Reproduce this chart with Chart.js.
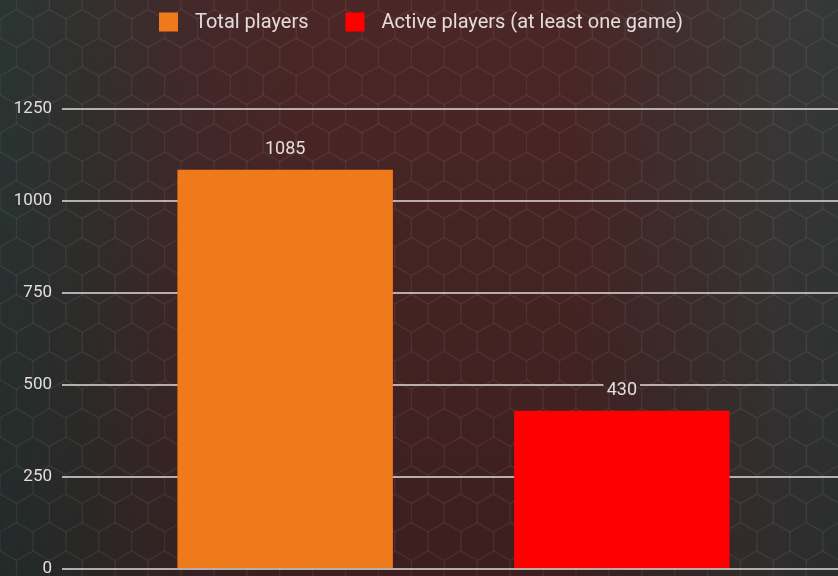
<!DOCTYPE html>
<html><head><meta charset="utf-8">
<script src="https://cdn.jsdelivr.net/npm/chart.js@4"></script>
<style>html,body{margin:0;padding:0;background:#3a2e2d;overflow:hidden}</style>
</head><body>
<canvas id="c" width="838" height="576"></canvas>
<script>
const categories = ['Players'];
const seriesNames = ['Total players', 'Active players (at least one game)'];
const totalPlayers = [1085];
const activePlayers = [430];
const yTicks = [0, 250, 500, 750, 1000, 1250];
const seriesColors = ['#ef7a1b', '#ff0000'];

const FONT = "Roboto, 'Noto Sans', sans-serif";
const TEXT = '#e4dcdc';

function drawBackground(ctx, w, h) {
  ctx.fillStyle = '#383232';
  ctx.fillRect(0, 0, w, h);
  const g = ctx.createLinearGradient(0, 0, w, 0);
  g.addColorStop(0, '#2b3533');
  g.addColorStop(0.10, '#32302f');
  g.addColorStop(0.22, '#43292a');
  g.addColorStop(0.36, '#4b2626');
  g.addColorStop(0.68, '#4b2626');
  g.addColorStop(0.82, '#40302f');
  g.addColorStop(0.92, '#3a3737');
  g.addColorStop(1, '#353837');
  ctx.fillStyle = g;
  ctx.fillRect(0, 0, w, h);
  const v = ctx.createLinearGradient(0, 0, 0, h);
  v.addColorStop(0, 'rgba(0,0,0,0)');
  v.addColorStop(0.35, 'rgba(0,0,0,0.06)');
  v.addColorStop(1, 'rgba(0,0,0,0.2)');
  ctx.fillStyle = v;
  ctx.fillRect(0, 0, w, h);
  // hexagon texture
  const r = 19, hw = Math.sqrt(3) * r;
  ctx.strokeStyle = 'rgba(255,255,255,0.035)';
  ctx.lineWidth = 1.5;
  for (let row = -1; (row - 1) * 1.5 * r < h + r; row++) {
    const cy = row * 1.5 * r;
    const off = (Math.abs(row) % 2) ? hw / 2 : 0;
    for (let cx = -hw + off; cx < w + hw; cx += hw) {
      ctx.beginPath();
      for (let k = 0; k < 6; k++) {
        const a = Math.PI / 180 * (60 * k - 90);
        const px = cx + r * Math.cos(a), py = cy + r * Math.sin(a);
        if (k) ctx.lineTo(px, py); else ctx.moveTo(px, py);
      }
      ctx.closePath();
      ctx.stroke();
    }
  }
}

const bgPlugin = {
  id: 'bg',
  beforeDraw(chart) {
    const ctx = chart.ctx;
    ctx.save();
    drawBackground(ctx, chart.width, chart.height);
    ctx.restore();
  }
};

const shiftPlugin = {
  id: 'shiftX',
  afterLayout(chart) {
    const xs = chart.scales.x;
    xs.right += 7;
    xs.width += 7;
    xs.configure();
  }
};

const legendPlugin = {
  id: 'customLegend',
  afterDraw(chart) {
    const ctx = chart.ctx;
    ctx.save();
    ctx.font = '20px ' + FONT;
    const box = 19, gapText = 17, gapItem = 37;
    const widths = seriesNames.map(n => ctx.measureText(n).width);
    let total = 0;
    widths.forEach((wd, i) => { total += box + gapText + wd + (i ? gapItem : 0); });
    let x = chart.width / 2 + 2 - total / 2;
    const cy = 22;
    ctx.textBaseline = 'middle';
    ctx.textAlign = 'left';
    seriesNames.forEach((n, i) => {
      ctx.fillStyle = seriesColors[i];
      ctx.fillRect(x, cy - box / 2, box, box);
      ctx.fillStyle = TEXT;
      ctx.fillText(n, x + box + gapText, cy + 1);
      x += box + gapText + widths[i] + gapItem;
    });
    ctx.restore();
  }
};

const labelPlugin = {
  id: 'valueLabels',
  afterDatasetsDraw(chart) {
    const ctx = chart.ctx;
    ctx.save();
    ctx.font = '18px ' + FONT;
    chart.data.datasets.forEach((ds, di) => {
      const meta = chart.getDatasetMeta(di);
      meta.data.forEach((el, i) => {
        const txt = String(ds.data[i]);
        const tw = ctx.measureText(txt).width;
        const cx = el.x, cy = el.y - 21;
        const rw = tw + 6, rh = 22;
        ctx.save();
        ctx.beginPath();
        ctx.rect(cx - rw / 2, cy - rh / 2, rw, rh);
        ctx.clip();
        drawBackground(ctx, chart.width, chart.height);
        ctx.restore();
        ctx.fillStyle = TEXT;
        ctx.textAlign = 'center';
        ctx.textBaseline = 'middle';
        ctx.fillText(txt, cx, cy + 1);
      });
    });
    ctx.restore();
  }
};

new Chart(document.getElementById('c'), {
  type: 'bar',
  data: {
    labels: categories,
    datasets: [
      { label: seriesNames[0], data: totalPlayers, backgroundColor: seriesColors[0], categoryPercentage: 0.86, barPercentage: 0.64 },
      { label: seriesNames[1], data: activePlayers, backgroundColor: seriesColors[1], categoryPercentage: 0.86, barPercentage: 0.64 }
    ]
  },
  options: {
    responsive: false,
    animation: false,
    devicePixelRatio: 1,
    layout: { padding: { top: 109, bottom: 7, left: 0, right: 0 } },
    plugins: { legend: { display: false }, tooltip: { enabled: false } },
    scales: {
      x: { display: false },
      y: {
        min: 0, max: 1250,
        afterBuildTicks(scale) { scale.ticks = yTicks.map(v => ({ value: v })); },
        afterFit(scale) { scale.width = 62; scale.paddingTop = 0; scale.paddingBottom = 0; },
        ticks: { color: TEXT, font: { size: 17, family: FONT }, padding: 10, callback: v => String(v) },
        grid: { color: 'rgba(215,208,208,0.8)', lineWidth: 2, drawTicks: false },
        border: { display: false }
      }
    }
  },
  plugins: [bgPlugin, shiftPlugin, legendPlugin, labelPlugin]
});
</script>
</body></html>
